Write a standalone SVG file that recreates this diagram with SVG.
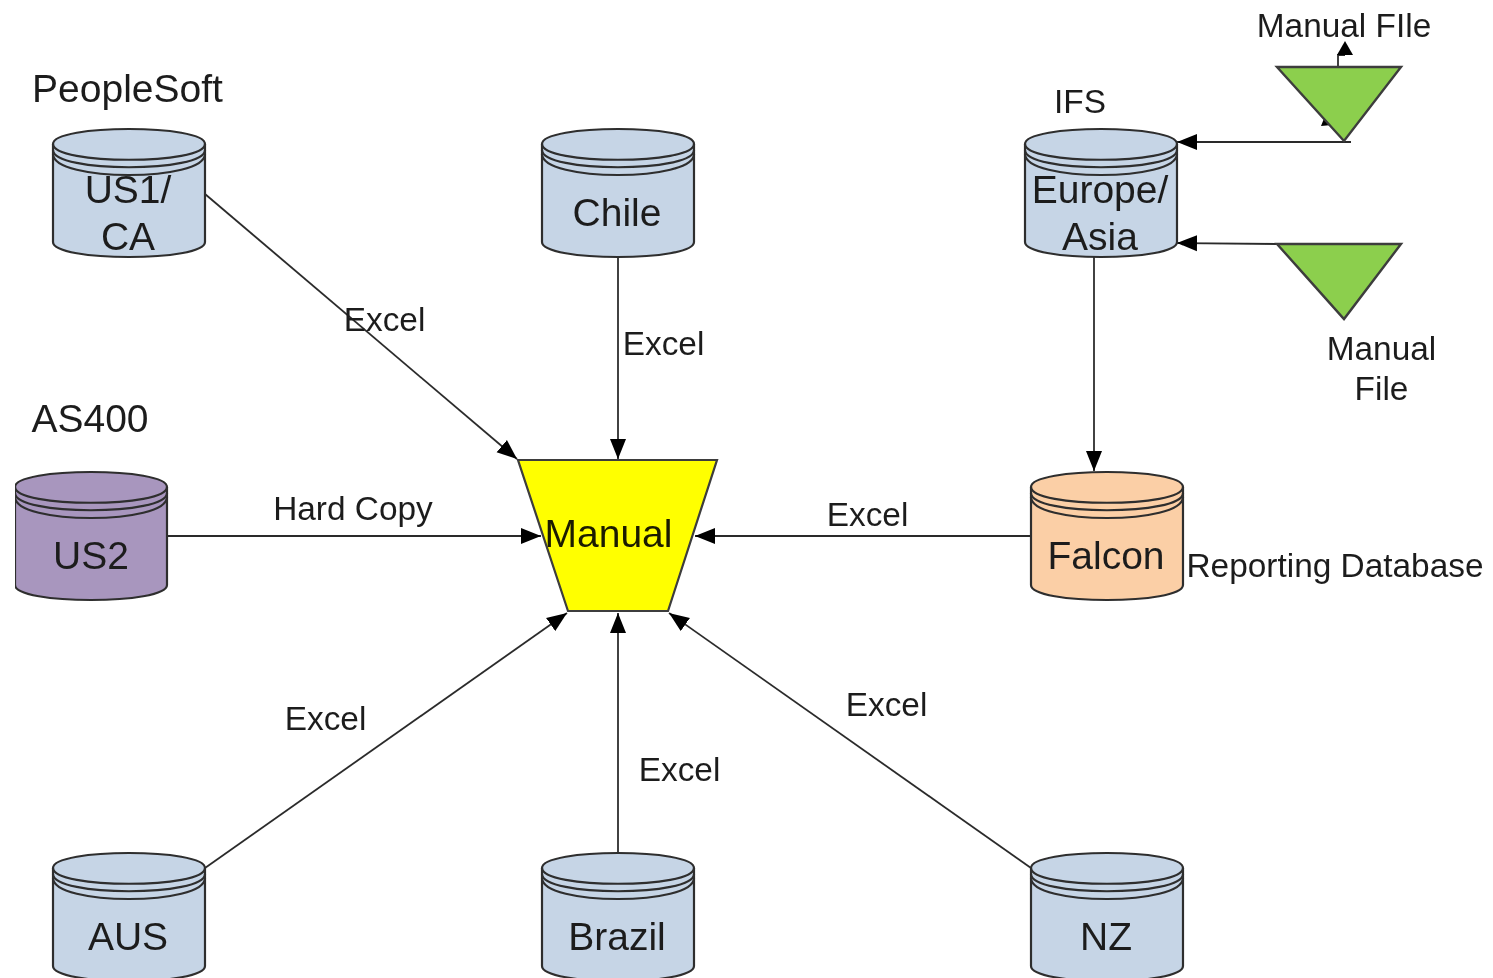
<svg xmlns="http://www.w3.org/2000/svg" width="1493" height="978" viewBox="0 0 1493 978">
<style>
text{font-family:"Liberation Sans",Arial,sans-serif;fill:#1e1e1e;text-anchor:middle}
.l{font-size:33.4px}
.big{font-size:39px}
.n{font-size:39px}
.e{stroke:#2c2c2c;stroke-width:1.8;fill:none}
.b{stroke:#2e2e2e;stroke-width:2.2}
.r{stroke:#2e2e2e;stroke-width:2.2;fill:none}
.blue{fill:#c6d5e6}
.t{fill:#8ccf4d;stroke:#3c3c3c;stroke-width:2.4}
</style>
<defs>
<filter id="soft" x="0" y="0" width="100%" height="100%" filterUnits="objectBoundingBox"><feGaussianBlur stdDeviation="0.55"/></filter>
<marker id="a" markerUnits="userSpaceOnUse" markerWidth="22" markerHeight="18" refX="20" refY="9" orient="auto"><path d="M0 1L20 9L0 17Z" fill="#000"/></marker>
<path id="body" d="M0 15C0 -5 152 -5 152 15V113C152 133 0 133 0 113Z"/>
<g id="rings"><path class="r" d="M0 15C0 36 152 36 152 15"/><path class="r" d="M0 21C0 44 152 44 152 21"/><path class="r" d="M0 25C0 53 152 53 152 25"/></g>
</defs>
<rect width="1493" height="978" fill="#fff"/>
<g filter="url(#soft)">
<g id="connectors">
<path class="e" d="M205 194L517 459" marker-end="url(#a)"/>
<path class="e" d="M618 256V459" marker-end="url(#a)"/>
<path class="e" d="M167 536H541" marker-end="url(#a)"/>
<path class="e" d="M1031 536H695" marker-end="url(#a)"/>
<path class="e" d="M205 868L567 613" marker-end="url(#a)"/>
<path class="e" d="M618 853V613" marker-end="url(#a)"/>
<path class="e" d="M1031 868L669 613" marker-end="url(#a)"/>
<path class="e" d="M1094 256V471" marker-end="url(#a)"/>
<path class="e" d="M1351 142H1177" marker-end="url(#a)"/>
<path class="e" d="M1277 244L1177 243" marker-end="url(#a)"/>
<path class="e" d="M1338 66V55H1345"/>
<path d="M1337 55L1345 41L1353 55Z" fill="#000"/>
<path d="M1321 126L1325 116L1332 125Z" fill="#000"/>
</g>
<g id="us1"><use href="#body" x="53" y="129" class="b blue"/><use href="#rings" x="53" y="129"/><text class="n" x="128" y="203">US1/</text><text class="n" x="128" y="250">CA</text></g>
<g id="chile"><use href="#body" x="542" y="129" class="b blue"/><use href="#rings" x="542" y="129"/><text class="n" x="617" y="226">Chile</text></g>
<g id="europe"><use href="#body" x="1025" y="129" class="b blue"/><use href="#rings" x="1025" y="129"/><text class="n" x="1100" y="203">Europe/</text><text class="n" x="1100" y="250">Asia</text></g>
<g id="us2"><use href="#body" x="15" y="472" class="b" fill="#a896be"/><use href="#rings" x="15" y="472"/><text class="n" x="91" y="569">US2</text></g>
<g id="falcon"><use href="#body" x="1031" y="472" class="b" fill="#fbcfa6"/><use href="#rings" x="1031" y="472"/><text class="n" x="1106" y="569">Falcon</text></g>
<g id="aus"><use href="#body" x="53" y="853" class="b blue"/><use href="#rings" x="53" y="853"/><text class="n" x="128" y="950">AUS</text></g>
<g id="brazil"><use href="#body" x="542" y="853" class="b blue"/><use href="#rings" x="542" y="853"/><text class="n" x="617" y="950">Brazil</text></g>
<g id="nz"><use href="#body" x="1031" y="853" class="b blue"/><use href="#rings" x="1031" y="853"/><text class="n" x="1106" y="950">NZ</text></g>
<g id="manual"><path d="M518 460H717L668 611H568Z" fill="#ff0" stroke="#3c3c3c" stroke-width="2.2"/><text class="n" x="608.500" y="547" style="fill:#1c1c00">Manual</text></g>
<g id="file1"><path class="t" d="M1277 67H1401L1344 141Z"/></g>
<g id="file2"><path class="t" d="M1277 244H1401L1344 319Z"/></g>
<g id="labels">
<text class="big" x="127.500" y="102">PeopleSoft</text>
<text class="big" x="90" y="432">AS400</text>
<text class="l" x="1080" y="113">IFS</text>
<text class="l" x="1344" y="37">Manual FIle</text>
<text class="l" x="1381.500" y="360">Manual</text>
<text class="l" x="1381.500" y="400">File</text>
<text class="l" x="1335" y="577">Reporting Database</text>
<text class="l" x="384.500" y="331">Excel</text>
<text class="l" x="663.500" y="355">Excel</text>
<text class="l" x="353" y="520">Hard Copy</text>
<text class="l" x="867.500" y="526">Excel</text>
<text class="l" x="325.500" y="730">Excel</text>
<text class="l" x="679.500" y="781">Excel</text>
<text class="l" x="886.500" y="716">Excel</text>
</g>
</g>
</svg>
